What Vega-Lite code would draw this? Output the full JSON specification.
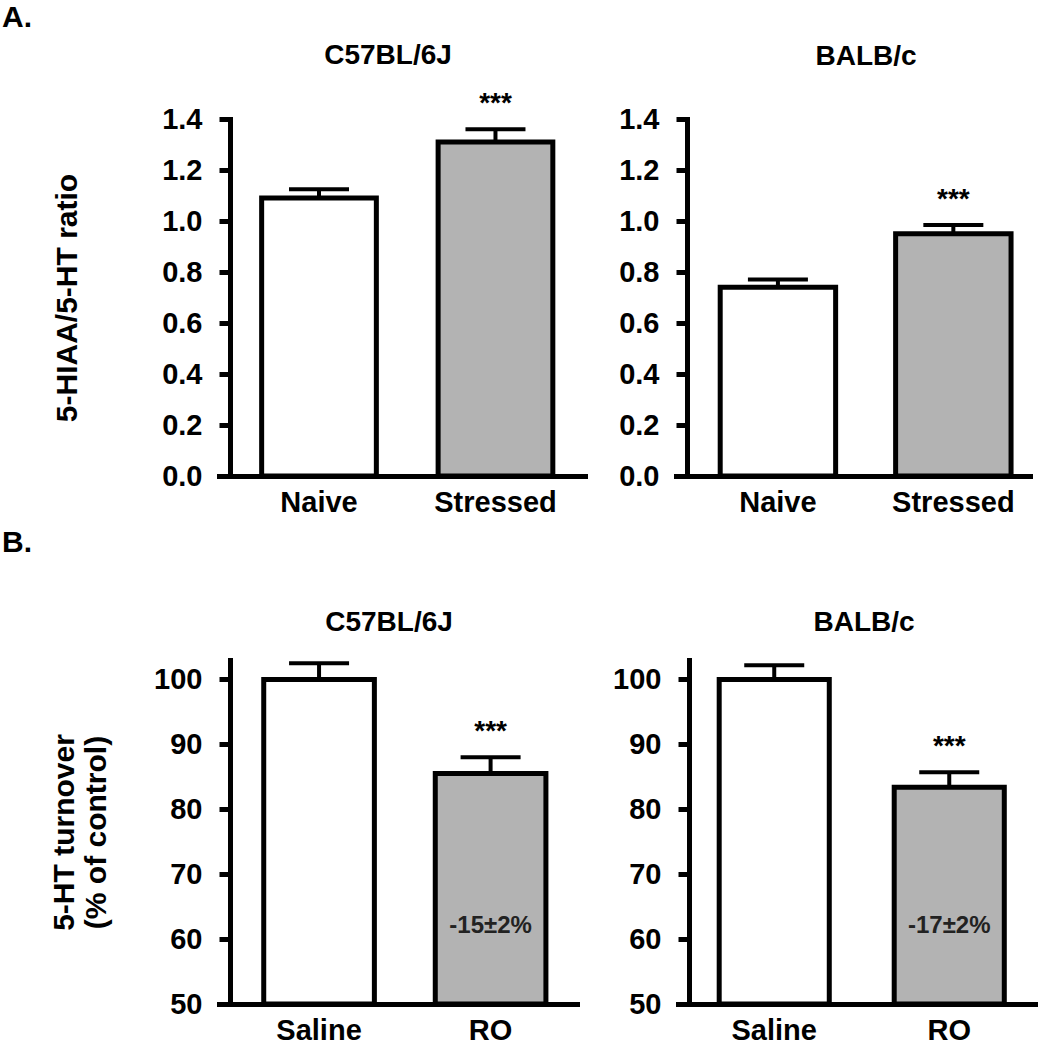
{
  "$schema": "https://vega.github.io/schema/vega-lite/v6.json",
  "padding": {"left": 2, "top": 3, "right": 0, "bottom": 0},
  "background": "white",
  "config": {
    "font": "Liberation Sans",
    "view": {"stroke": null},
    "axis": {"domainColor": "black", "domainWidth": 5, "domainCap": "square", "tickColor": "black", "tickWidth": 5, "labelColor": "black", "labelFont": "Liberation Sans", "labelFontWeight": "bold", "titleColor": "black", "titleFont": "Liberation Sans", "titleFontWeight": "bold", "grid": false},
    "axisY": {"offset": -11, "tickSize": 11, "labelFontSize": 29, "labelPadding": 17, "titleFontSize": 30, "titleBaseline": "alphabetic", "titleAngle": -90, "titleAlign": "center"},
    "axisX": {"ticks": false, "labelFontSize": 29, "labelPadding": 12, "labelAngle": 0},
    "title": {"fontSize": 28, "fontWeight": "bold", "color": "black", "font": "Liberation Sans"}
  },
  "datasets": {
    "c57_ratio": [
      {"group": "Naive", "value": 1.09, "err": 1.125, "treated": false},
      {"group": "Stressed", "value": 1.31, "err": 1.36, "treated": true}
    ],
    "balb_ratio": [
      {"group": "Naive", "value": 0.74, "err": 0.771, "treated": false},
      {"group": "Stressed", "value": 0.95, "err": 0.984, "treated": true}
    ],
    "c57_turn": [
      {"group": "Saline", "value": 100, "err": 102.5, "treated": false},
      {"group": "RO", "value": 85.5, "err": 88.0, "treated": true, "note": "-15±2%"}
    ],
    "balb_turn": [
      {"group": "Saline", "value": 100, "err": 102.2, "treated": false},
      {"group": "RO", "value": 83.4, "err": 85.7, "treated": true, "note": "-17±2%"}
    ]
  },
  "spacing": 11,
  "vconcat": [
    {
      "title": {"text": "A.", "anchor": "start", "frame": "group", "fontSize": 30, "dx": -217, "offset": -15, "baseline": "alphabetic"},
      "bounds": "flush",
      "spacing": 91,
      "hconcat": [
        {
          "width": 366, "height": 357,
          "title": {"text": "C57BL/6J", "dx": -14, "offset": -2, "baseline": "alphabetic"},
          "data": {"name": "c57_ratio"},
          "encoding": {
            "x": {"field": "group", "type": "nominal", "sort": ["Naive", "Stressed"], "scale": {"paddingInner": 0.35, "paddingOuter": 0.212, "align": 0.57}, "axis": {"title": null}}
          },
          "layer": [
            {"mark": {"type": "bar", "stroke": "black", "strokeWidth": 5},
             "encoding": {
               "y": {"field": "value", "type": "quantitative", "scale": {"domain": [0, 1.4], "nice": false}, "axis": {"values": [0, 0.2, 0.4, 0.6, 0.8, 1.0, 1.2, 1.4], "format": ".1f", "title": "5-HIAA/5-HT ratio", "titleX": -154, "titleY": 178.5}},
               "fill": {"condition": {"test": "datum.treated", "value": "#b3b3b3"}, "value": "white"}
             }},
            {"mark": {"type": "rule", "strokeWidth": 4, "color": "black"},
             "encoding": {"y": {"field": "value", "type": "quantitative"}, "y2": {"field": "err"}}},
            {"mark": {"type": "tick", "size": 60, "thickness": 4, "color": "black", "opacity": 1},
             "encoding": {"y": {"field": "err", "type": "quantitative"}}},
            {"transform": [{"filter": "datum.treated"}],
             "mark": {"type": "text", "text": "***", "dy": -17, "baseline": "alphabetic", "fontSize": 28, "fontWeight": "bold", "color": "black"},
             "encoding": {"y": {"field": "err", "type": "quantitative"}}}
          ]
        },
        {
          "width": 354, "height": 357,
          "title": {"text": "BALB/c", "dx": 13, "offset": 12, "baseline": "alphabetic"},
          "data": {"name": "balb_ratio"},
          "encoding": {
            "x": {"field": "group", "type": "nominal", "sort": ["Naive", "Stressed"], "scale": {"paddingInner": 0.342, "paddingOuter": 0.18, "align": 0.7}, "axis": {"title": null}}
          },
          "layer": [
            {"mark": {"type": "bar", "stroke": "black", "strokeWidth": 5},
             "encoding": {
               "y": {"field": "value", "type": "quantitative", "scale": {"domain": [0, 1.4], "nice": false}, "axis": {"values": [0, 0.2, 0.4, 0.6, 0.8, 1.0, 1.2, 1.4], "format": ".1f", "title": null}},
               "fill": {"condition": {"test": "datum.treated", "value": "#b3b3b3"}, "value": "white"}
             }},
            {"mark": {"type": "rule", "strokeWidth": 4, "color": "black"},
             "encoding": {"y": {"field": "value", "type": "quantitative"}, "y2": {"field": "err"}}},
            {"mark": {"type": "tick", "size": 60, "thickness": 4, "color": "black", "opacity": 1},
             "encoding": {"y": {"field": "err", "type": "quantitative"}}},
            {"transform": [{"filter": "datum.treated"}],
             "mark": {"type": "text", "text": "***", "dy": -17, "baseline": "alphabetic", "fontSize": 28, "fontWeight": "bold", "color": "black"},
             "encoding": {"y": {"field": "err", "type": "quantitative"}}}
          ]
        }
      ]
    },
    {
      "title": {"text": "B.", "anchor": "start", "frame": "group", "fontSize": 30, "dx": -217, "offset": 27, "baseline": "alphabetic"},
      "bounds": "flush",
      "spacing": 101,
      "hconcat": [
        {
          "width": 358, "height": 344,
          "title": {"text": "C57BL/6J", "dx": -9, "offset": 1, "baseline": "alphabetic"},
          "data": {"name": "c57_turn"},
          "encoding": {
            "x": {"field": "group", "type": "nominal", "sort": ["Saline", "RO"], "scale": {"paddingInner": 0.355, "paddingOuter": 0.221, "align": 0.59}, "axis": {"title": null}}
          },
          "layer": [
            {"mark": {"type": "bar", "stroke": "black", "strokeWidth": 5},
             "encoding": {
               "y": {"field": "value", "type": "quantitative", "scale": {"domain": [50, 103], "nice": false, "zero": false}, "axis": {"values": [50, 60, 70, 80, 90, 100], "title": ["5-HT turnover", "(% of control)"], "titleLineHeight": 32, "titleX": -157, "titleY": 172}},
               "y2": {"datum": 50},
               "fill": {"condition": {"test": "datum.treated", "value": "#b3b3b3"}, "value": "white"}
             }},
            {"mark": {"type": "rule", "strokeWidth": 4, "color": "black"},
             "encoding": {"y": {"field": "value", "type": "quantitative"}, "y2": {"field": "err"}}},
            {"mark": {"type": "tick", "size": 60, "thickness": 4, "color": "black", "opacity": 1},
             "encoding": {"y": {"field": "err", "type": "quantitative"}}},
            {"transform": [{"filter": "datum.treated"}],
             "mark": {"type": "text", "text": "***", "dy": -17, "baseline": "alphabetic", "fontSize": 28, "fontWeight": "bold", "color": "black"},
             "encoding": {"y": {"field": "err", "type": "quantitative"}}},
            {"transform": [{"filter": "datum.note != null"}],
             "mark": {"type": "text", "baseline": "middle", "fontSize": 24, "fontWeight": "bold", "color": "#222222"},
             "encoding": {"y": {"datum": 62}, "text": {"field": "note"}}}
          ]
        },
        {
          "width": 360, "height": 344,
          "title": {"text": "BALB/c", "dx": 6, "offset": 1, "baseline": "alphabetic"},
          "data": {"name": "balb_turn"},
          "encoding": {
            "x": {"field": "group", "type": "nominal", "sort": ["Saline", "RO"], "scale": {"paddingInner": 0.371, "paddingOuter": 0.214, "align": 0.55}, "axis": {"title": null}}
          },
          "layer": [
            {"mark": {"type": "bar", "stroke": "black", "strokeWidth": 5},
             "encoding": {
               "y": {"field": "value", "type": "quantitative", "scale": {"domain": [50, 103], "nice": false, "zero": false}, "axis": {"values": [50, 60, 70, 80, 90, 100], "title": null}},
               "y2": {"datum": 50},
               "fill": {"condition": {"test": "datum.treated", "value": "#b3b3b3"}, "value": "white"}
             }},
            {"mark": {"type": "rule", "strokeWidth": 4, "color": "black"},
             "encoding": {"y": {"field": "value", "type": "quantitative"}, "y2": {"field": "err"}}},
            {"mark": {"type": "tick", "size": 60, "thickness": 4, "color": "black", "opacity": 1},
             "encoding": {"y": {"field": "err", "type": "quantitative"}}},
            {"transform": [{"filter": "datum.treated"}],
             "mark": {"type": "text", "text": "***", "dy": -17, "baseline": "alphabetic", "fontSize": 28, "fontWeight": "bold", "color": "black"},
             "encoding": {"y": {"field": "err", "type": "quantitative"}}},
            {"transform": [{"filter": "datum.note != null"}],
             "mark": {"type": "text", "baseline": "middle", "fontSize": 24, "fontWeight": "bold", "color": "#222222"},
             "encoding": {"y": {"datum": 62}, "text": {"field": "note"}}}
          ]
        }
      ]
    }
  ]
}
